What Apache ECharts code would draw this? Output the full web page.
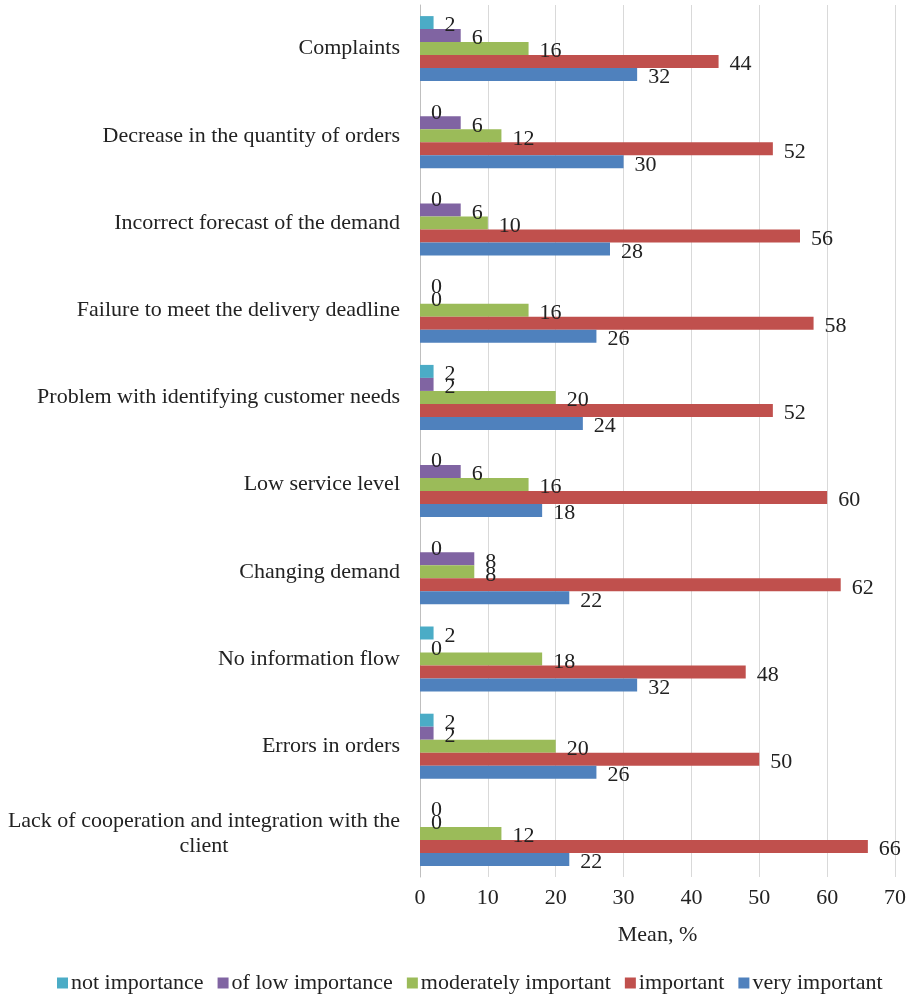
<!DOCTYPE html>
<html>
<head>
<meta charset="utf-8">
<title>Mean, %</title>
<script src="https://cdn.jsdelivr.net/npm/echarts@6/dist/echarts.min.js"></script>
<style>
  html, body { margin: 0; padding: 0; background: #fff; }
  #chart { width: 909px; height: 1001px; }
</style>
</head>
<body>
<div id="chart"></div>
<script>
// categories, top to bottom
var categories = [
    'Complaints',
    'Decrease in the quantity of orders',
    'Incorrect forecast of the demand',
    'Failure to meet the delivery deadline',
    'Problem with identifying customer needs',
    'Low service level',
    'Changing demand',
    'No information flow',
    'Errors in orders',
    'Lack of cooperation and integration with the\nclient'
];

var notImportance       = [2, 0, 0, 0, 2, 0, 0, 2, 2, 0];
var lowImportance       = [6, 6, 6, 0, 2, 6, 8, 0, 2, 0];
var moderatelyImportant = [16, 12, 10, 16, 20, 16, 8, 18, 20, 12];
var important           = [44, 52, 56, 58, 52, 60, 62, 48, 50, 66];
var veryImportant       = [32, 30, 28, 26, 24, 18, 22, 32, 26, 22];

var seriesNames = ['not importance', 'of low importance', 'moderately important', 'important', 'very important'];
var seriesData = [notImportance, lowImportance, moderatelyImportant, important, veryImportant];
var colors = ['#4bacc6', '#8064a2', '#9bbb59', '#c0504d', '#4f81bd'];

var serif = '"Liberation Serif", "Times New Roman", serif';
var fs = 22;

var myChart = echarts.init(document.getElementById('chart'));

function makeSeries(i) {
    return {
        name: seriesNames[i],
        type: 'bar',
        barWidth: 13,
        barGap: '0%',
        itemStyle: { color: colors[i] },
        label: {
            show: true,
            position: 'right',
            distance: 11,
            offset: [0, 3],
            color: '#222',
            fontFamily: serif,
            fontSize: fs
        },
        data: seriesData[i]
    };
}

var option = {
    backgroundColor: '#fff',
    animation: false,
    textStyle: { fontFamily: serif },
    grid: { left: 420, right: 13, top: 5, bottom: 124 },
    legend: {
        bottom: 2,
        left: 52,
        itemWidth: 11,
        itemHeight: 11,
        itemGap: 14,
        icon: 'rect',
        data: seriesNames,
        textStyle: { fontFamily: serif, fontSize: fs, color: '#222', padding: [0, 0, 0, -2] }
    },
    xAxis: {
        type: 'value',
        min: 0,
        max: 70,
        interval: 10,
        name: 'Mean, %',
        nameLocation: 'middle',
        nameGap: 47,
        nameTextStyle: { fontFamily: serif, fontSize: fs, color: '#222' },
        axisLine: { show: false },
        axisTick: { show: false },
        axisLabel: { margin: 10, fontFamily: serif, fontSize: fs, color: '#222' },
        splitLine: { show: true, lineStyle: { color: '#d9d9d9', width: 1 } }
    },
    yAxis: {
        type: 'category',
        inverse: true,
        data: categories,
        axisLine: { show: true, lineStyle: { color: '#bfbfbf' } },
        axisTick: { show: false },
        axisLabel: {
            margin: 20,
            color: '#222',
            fontFamily: serif,
            fontSize: fs,
            formatter: function (v) {
                if (v.indexOf('\n') >= 0) return '{c|' + v + '}';
                return v;
            },
            rich: {
                c: { width: 392, align: 'center', fontFamily: serif, fontSize: fs, color: '#222', lineHeight: 25 }
            }
        }
    },
    series: [0, 1, 2, 3, 4].map(makeSeries)
};

myChart.setOption(option);
</script>
</body>
</html>
